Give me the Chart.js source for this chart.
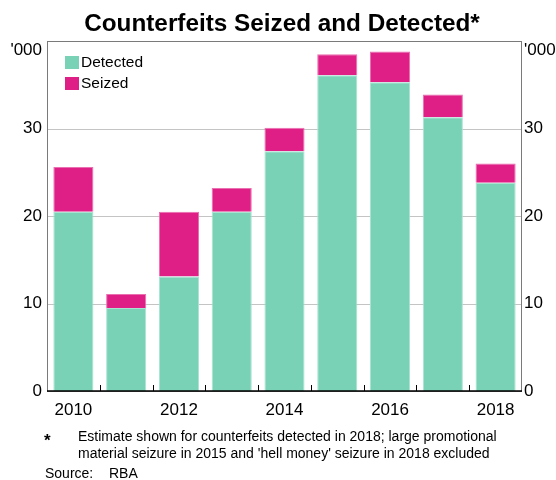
<!DOCTYPE html>
<html>
<head>
<title>Counterfeits Seized and Detected</title>
<script src="https://cdn.jsdelivr.net/npm/chart.js@4"></script>
<style>
  html, body { margin: 0; padding: 0; background: #fff; }
  #wrap { width: 556px; height: 480px; }
</style>
</head>
<body>
<div id="wrap"><canvas id="chart" width="556" height="480"></canvas></div>
<script>
// data, '000 notes
const years = ['2010', '2011', '2012', '2013', '2014', '2015', '2016', '2017', '2018']
const detected = [20.5, 9.5, 13.1, 20.5, 27.4, 36.1, 35.3, 31.3, 23.8]
const seized = [5.1, 1.6, 7.4, 2.7, 2.7, 2.4, 3.5, 2.6, 2.2]
const yTicks = [0, 10, 20, 30]

const teal = '#79d2b6'
const magenta = '#df1f86'
const font = 'Arial, "Liberation Sans", sans-serif'

// title, frame, inward x ticks, legend, unit labels, footnotes
const decor = {
    id: 'decor',
    beforeDatasetsDraw(chart) {
        const { ctx, chartArea: a } = chart
        ctx.save()
        ctx.strokeStyle = '#c4c4c4'
        ctx.lineWidth = 1
        const y = chart.scales.y
        yTicks.slice(1).forEach(v => {
            const py = Math.round(y.getPixelForValue(v)) + 0.5
            ctx.beginPath()
            ctx.moveTo(a.left, py)
            ctx.lineTo(a.right, py)
            ctx.stroke()
        })
        ctx.restore()
    },
    afterDraw(chart) {
        const { ctx, chartArea: a } = chart
        const x = chart.scales.x
        ctx.save()

        // frame
        ctx.strokeStyle = '#7a7a7a'
        ctx.lineWidth = 1
        ctx.strokeRect(a.left + 0.5, a.top + 0.5, a.right - a.left - 1, a.bottom - a.top)
        ctx.strokeStyle = '#000'
        ctx.lineWidth = 1.5
        ctx.beginPath()
        ctx.moveTo(a.left, a.bottom)
        ctx.lineTo(a.right, a.bottom)
        ctx.stroke()

        // ticks between bars
        ctx.lineWidth = 1
        for (let i = 1; i < years.length; i++) {
            const px = Math.round((x.getPixelForValue(i - 1) + x.getPixelForValue(i)) / 2) + 0.5
            ctx.beginPath()
            ctx.moveTo(px, a.bottom)
            ctx.lineTo(px, a.bottom - 6)
            ctx.stroke()
        }

        // title
        ctx.fillStyle = '#000'
        ctx.font = 'bold 24.3px ' + font
        ctx.textAlign = 'center'
        ctx.textBaseline = 'middle'
        ctx.fillText('Counterfeits Seized and Detected*', 282, 24)

        // unit labels
        ctx.font = '17px ' + font
        ctx.textAlign = 'right'
        ctx.fillText("'000", 42, 50)
        ctx.textAlign = 'left'
        ctx.fillText("'000", 524, 50)

        // legend
        const items = [['Detected', teal], ['Seized', magenta]]
        ctx.font = '15.5px ' + font
        items.forEach(([label, col], i) => {
            const ty = 56 + i * 21
            ctx.fillStyle = col
            ctx.fillRect(65, ty, 14, 13)
            ctx.fillStyle = '#000'
            ctx.textAlign = 'left'
            ctx.fillText(label, 81, ty + 7)
        })

        // footnotes
        ctx.font = 'bold 17px ' + font
        ctx.fillText('*', 44, 441)
        ctx.font = '14px ' + font
        ctx.fillText('Estimate shown for counterfeits detected in 2018; large promotional', 78, 437)
        ctx.fillText("material seizure in 2015 and 'hell money' seizure in 2018 excluded", 78, 454)
        ctx.fillText('Source:', 45, 474)
        ctx.fillText('RBA', 109, 474)
        ctx.restore()
    }
}

const yCommon = {
    min: 0,
    max: 40,
    stacked: true,
    grid: { display: false, drawTicks: false },
    border: { display: false },
    afterBuildTicks: s => { s.ticks = [0, 10, 20, 30, 40].map(v => ({ value: v })) },
    ticks: {
        padding: 5,
        color: '#000',
        font: { family: font, size: 17 },
        callback: v => (yTicks.includes(v) ? v : '')
    }
}

new Chart('chart', {
    type: 'bar',
    data: {
        labels: years,
        datasets: [
            { label: 'Detected', data: detected, backgroundColor: teal, borderColor: '#a9e3d1', borderWidth: 1 },
            { label: 'Seized', data: seized, backgroundColor: magenta, borderColor: '#ea6fb0', borderWidth: 1 }
        ]
    },
    options: {
        responsive: false,
        animation: false,
        events: [],
        layout: { padding: { top: 41, left: 0, right: 0, bottom: 0 } },
        datasets: { bar: { barPercentage: 0.76, categoryPercentage: 1 } },
        plugins: { legend: { display: false }, title: { display: false }, tooltip: { enabled: false } },
        scales: {
            x: {
                stacked: true,
                grid: { display: false, drawTicks: false },
                border: { display: false },
                afterFit: s => { s.height = 89 },
                ticks: {
                    padding: 9,
                    color: '#000',
                    maxRotation: 0,
                    autoSkip: false,
                    font: { family: font, size: 17 },
                    callback: (v, i) => (i % 2 === 0 ? years[i] : '')
                }
            },
            y: Object.assign({}, yCommon, { position: 'left', afterFit: s => { s.width = 47 } }),
            y2: Object.assign({}, yCommon, { position: 'right', ticks: Object.assign({}, yCommon.ticks, { padding: 2 }), afterFit: s => { s.width = 34 } })
        }
    },
    plugins: [decor]
})
</script>
</body>
</html>
